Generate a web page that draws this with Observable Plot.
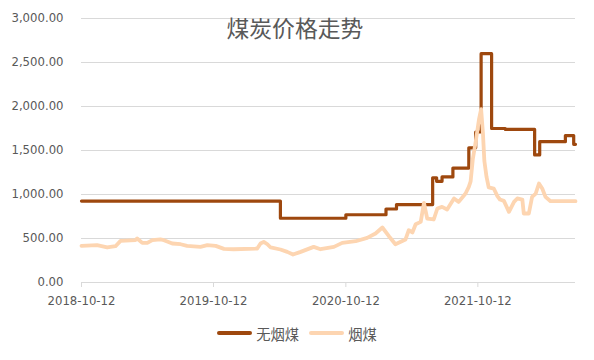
<!DOCTYPE html>
<html>
<head>
<meta charset="utf-8">
<script src="https://cdn.jsdelivr.net/npm/d3@7"></script>
<script src="https://cdn.jsdelivr.net/npm/@observablehq/plot@0.6"></script>
<style>
  html, body { margin: 0; padding: 0; background: #fff; }
  #chart { width: 594px; }
  .legend { display: flex; justify-content: center; align-items: center; height: 46px; font-family: "Noto Sans CJK SC", sans-serif; font-size: 14.3px; color: #595959; }
  .legend .item { display: flex; align-items: center; margin: 0 5px; }
  .legend .sw { width: 35px; height: 4px; border-radius: 2px; margin-right: 4px; }
</style>
</head>
<body>
<div id="chart"></div>
<script>
const title = "煤炭价格走势";
const seriesNames = ["无烟煤", "烟煤"];
const seriesColors = ["#9E480E", "#FDD5B1"];
const xTickLabels = ["2018-10-12", "2019-10-12", "2020-10-12", "2021-10-12"];
const xDomain = ["2018-10-12", "2022-07-09"];
const yTicks = [0, 500, 1000, 1500, 2000, 2500, 3000];

// 无烟煤 (step series)
const anthraciteDates = ["2018-10-12","2020-04-14","2020-10-12","2021-01-31","2021-03-01","2021-06-09","2021-06-20","2021-07-05","2021-08-04","2021-09-17","2021-10-06","2021-10-21","2021-11-19","2021-12-27","2022-03-18","2022-04-01","2022-06-11","2022-07-04","2022-07-09"];
const anthraciteValues = [925, 730, 770, 835, 885, 1190, 1150, 1200, 1300, 1530, 1710, 2600, 1750, 1740, 1450, 1600, 1670, 1570, 1570];

// 烟煤
const bituminousDates = ["2018-10-12","2018-11-24","2018-12-22","2019-01-14","2019-01-28","2019-03-10","2019-03-15","2019-03-29","2019-04-12","2019-04-26","2019-05-18","2019-05-28","2019-06-20","2019-07-13","2019-07-31","2019-09-06","2019-09-25","2019-10-18","2019-11-10","2019-12-07","2020-02-10","2020-02-19","2020-02-28","2020-03-09","2020-03-18","2020-04-14","2020-05-03","2020-05-19","2020-06-09","2020-07-15","2020-08-03","2020-09-09","2020-10-02","2020-11-08","2020-12-10","2021-01-02","2021-01-21","2021-02-08","2021-02-26","2021-03-26","2021-04-04","2021-04-14","2021-04-23","2021-05-07","2021-05-16","2021-05-25","2021-06-12","2021-06-22","2021-07-05","2021-07-19","2021-08-07","2021-08-20","2021-09-08","2021-09-17","2021-09-22","2021-09-28","2021-10-06","2021-10-15","2021-10-21","2021-10-26","2021-10-30","2021-11-05","2021-11-11","2021-11-25","2021-12-05","2021-12-12","2021-12-23","2022-01-06","2022-01-20","2022-01-29","2022-02-12","2022-02-16","2022-03-02","2022-03-11","2022-03-21","2022-03-30","2022-04-08","2022-04-17","2022-05-01","2022-07-09"];
const bituminousValues = [416,424,398,412,473,481,500,450,450,481,489,481,443,435,416,405,424,416,382,378,386,443,462,435,398,375,348,318,348,405,378,405,450,469,507,557,625,526,435,489,594,568,662,689,905,727,716,841,859,830,955,916,1011,1086,1150,1400,1600,1850,1970,1700,1380,1200,1080,1068,981,943,928,803,916,955,943,784,784,973,1011,1125,1068,973,924,924];

const parse = d3.utcParse("%Y-%m-%d");
const anthracite = anthraciteDates.map((d, i) => ({date: parse(d), value: anthraciteValues[i]}));
const bituminous = bituminousDates.map((d, i) => ({date: parse(d), value: bituminousValues[i]}));

const chart = Plot.plot({
  width: 594,
  height: 310,
  marginLeft: 81,
  marginRight: 19,
  marginTop: 18,
  marginBottom: 28,
  style: {fontFamily: "DejaVu Sans, sans-serif", fontSize: "11.7px", color: "#595959", background: "#fff", overflow: "visible"},
  x: {type: "utc", domain: xDomain.map(parse)},
  y: {domain: [0, 3000]},
  marks: [
    Plot.gridY(yTicks, {stroke: "#D9D9D9", strokeOpacity: 1, strokeWidth: 1}),
    Plot.ruleY([0], {stroke: "#D9D9D9", strokeWidth: 1}),
    Plot.axisY({ticks: yTicks, tickSize: 0, tickPadding: 18, tickFormat: d3.format(",.2f"), label: null, fill: "#595959"}),
    Plot.axisX({ticks: xTickLabels.map(parse), tickSize: 5, tickPadding: 9, stroke: "#D9D9D9", fill: "#595959", tickFormat: d3.utcFormat("%Y-%m-%d"), label: null}),
    Plot.line(anthracite, {x: "date", y: "value", curve: "step-after", stroke: seriesColors[0], strokeWidth: 3.2, strokeLinejoin: "round", strokeLinecap: "round"}),
    Plot.line(bituminous, {x: "date", y: "value", stroke: seriesColors[1], strokeWidth: 3.8, strokeLinejoin: "round", strokeLinecap: "round"}),
    Plot.text([title], {frameAnchor: "top-left", dx: 145, dy: 11, textAnchor: "start", lineAnchor: "middle", fontSize: 22.8, fill: "#595959", fontFamily: "Noto Sans CJK SC, sans-serif"})
  ]
});
document.getElementById("chart").appendChild(chart);

const legend = document.createElement("div");
legend.className = "legend";
seriesNames.forEach((name, i) => {
  const item = document.createElement("div");
  item.className = "item";
  const sw = document.createElement("span");
  sw.className = "sw";
  sw.style.background = seriesColors[i];
  const label = document.createElement("span");
  label.textContent = name;
  item.appendChild(sw);
  item.appendChild(label);
  legend.appendChild(item);
});
document.getElementById("chart").appendChild(legend);
</script>
</body>
</html>
